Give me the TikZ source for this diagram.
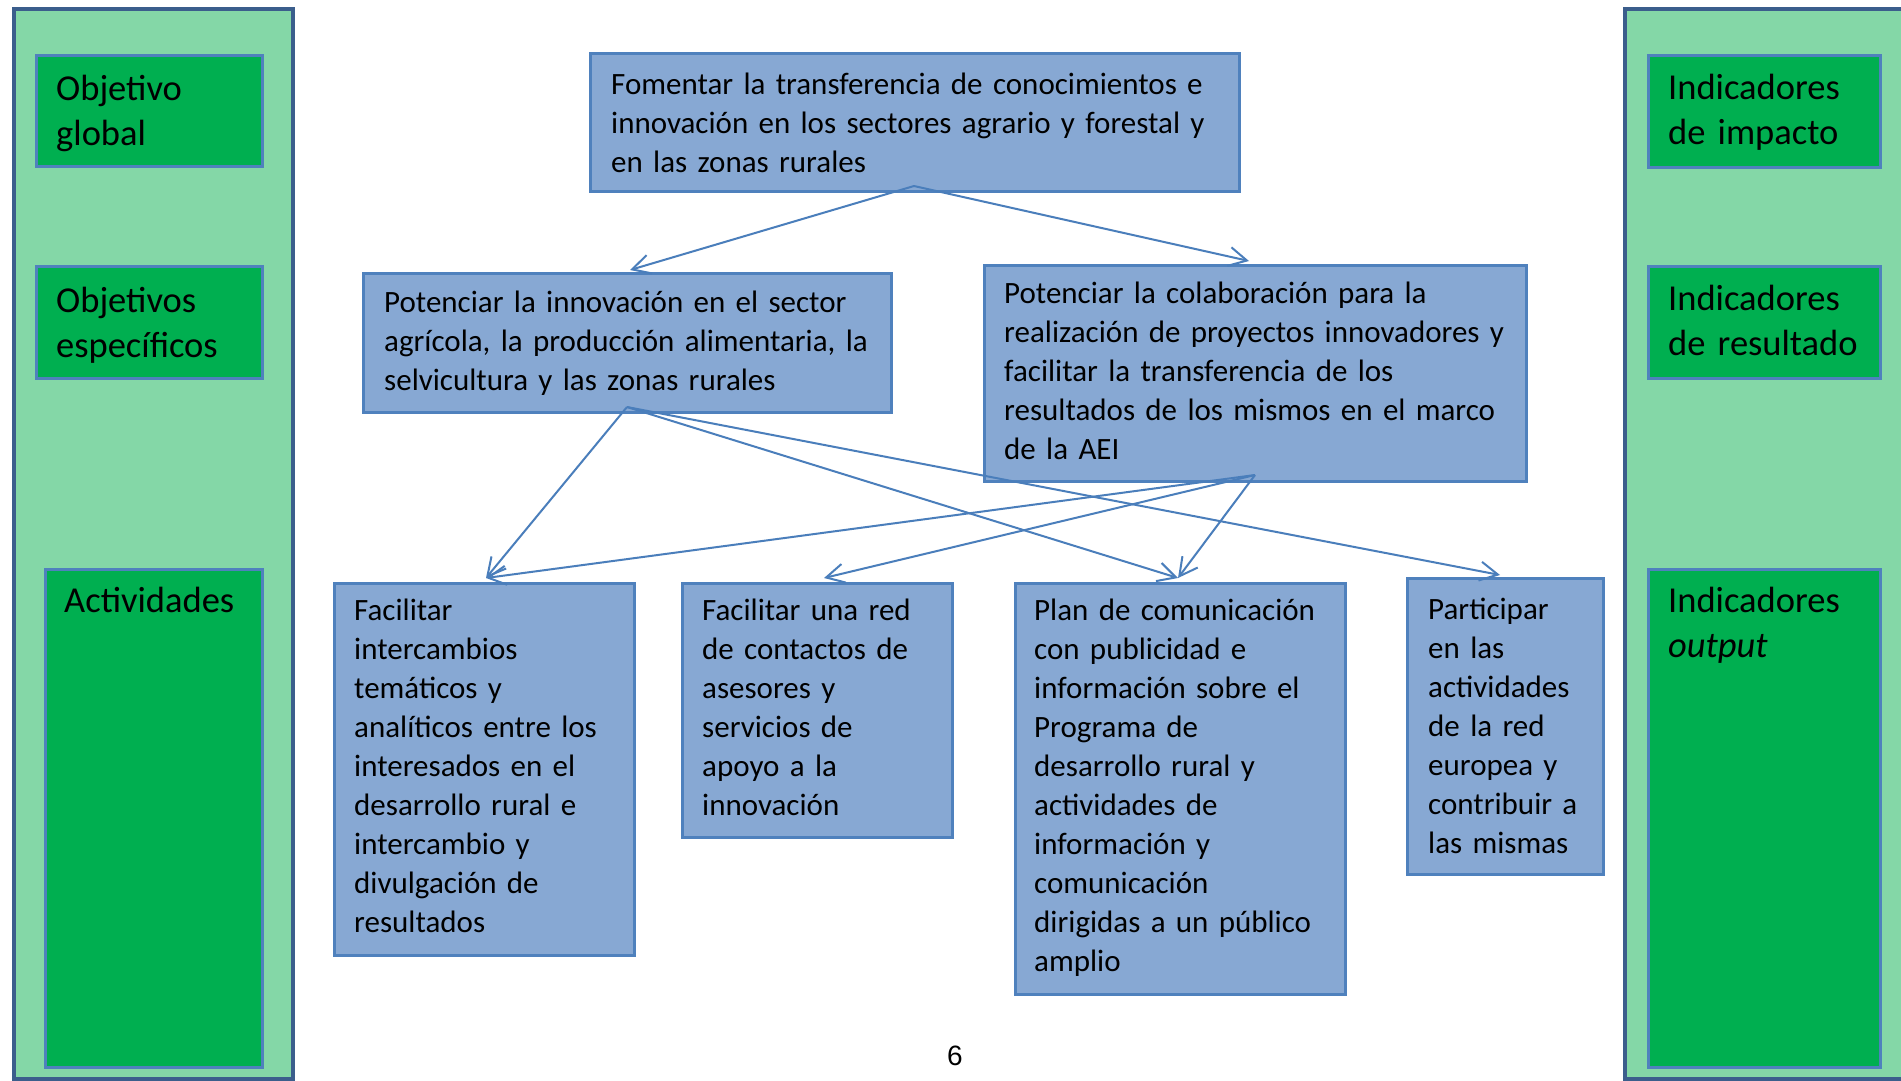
\documentclass[tikz,border=0pt]{standalone}
\usepackage{fontspec}
\setmainfont{Carlito}
\newfontfamily\arialf{Liberation Sans}
\usetikzlibrary{arrows.meta}
\definecolor{panelfill}{HTML}{84D7A7}
\definecolor{paneldraw}{HTML}{3B5E8C}
\definecolor{greenfill}{HTML}{00AF50}
\definecolor{boxdraw}{HTML}{4F81BD}
\definecolor{boxfill}{HTML}{87A8D3}
\definecolor{arrowc}{HTML}{4A7EBB}
\newcommand\boxat[6]{\node[#2, minimum width={(#5)-(#3)}, minimum height={(#6)-(#4)}, inner sep=0pt, anchor=north west] (#1) at (#3,#4) {};}
\begin{document}
\begin{tikzpicture}[x=1pt,y=-1pt,
  panel/.style={draw=paneldraw, fill=panelfill, line width=4pt},
  gbox/.style={draw=boxdraw, fill=greenfill, line width=3pt},
  bbox/.style={draw=boxdraw, fill=boxfill, line width=3pt},
  big/.style={anchor=base west, inner sep=0pt, align=left, text width=300pt, font=\fontsize{36.5}{45.5}\selectfont},
  txt/.style={anchor=base west, inner sep=0pt, align=left, text width=700pt, font=\fontsize{31}{39}\selectfont},
  link/.style={draw=arrowc, line width=2pt, -{Straight Barb[length=18pt,width=19pt]}}
]
\useasboundingbox (0,0) rectangle (1901,1080);
\clip (0,0) rectangle (1901,1080);
\fill[white] (0,0) rectangle (1901,1080);
% side panels
\boxat{lpanel}{panel}{12}{7}{291}{1077}
\boxat{rpanel}{panel}{1623}{7}{1915}{1077}
\boxat{og}{gbox}{34.5}{53.5}{260.5}{164.5}
\boxat{os}{gbox}{34.5}{264.5}{260.5}{376.5}
\boxat{act}{gbox}{43.5}{567.5}{260.5}{1065.5}
\boxat{ii}{gbox}{1646.5}{53.5}{1878.5}{165.5}
\boxat{ir}{gbox}{1646.5}{264.5}{1878.5}{376.5}
\boxat{io}{gbox}{1646.5}{567.5}{1878.5}{1065.5}
% centre boxes
\boxat{top}{bbox}{588.5}{51.5}{1237.5}{189.5}
\boxat{b2}{bbox}{361.5}{271.5}{889.5}{410.5}
\boxat{b3}{bbox}{982.5}{263.5}{1524.5}{479.5}
\boxat{bA}{bbox}{332.5}{581.5}{632.5}{953.5}
\boxat{bB}{bbox}{680.5}{581.5}{950.5}{835.5}
\boxat{bC}{bbox}{1013.5}{581.5}{1343.5}{992.5}
\boxat{bD}{bbox}{1405.5}{576.5}{1601.5}{872.5}
% connector end points
\coordinate (topo) at (914,186);
\coordinate (b2i) at (630,270);
\coordinate (b3i) at (1249,261);
\coordinate (b2o) at (627,407);
\coordinate (b3o) at (1255,475);
\coordinate (bAi) at (486,578);
\coordinate (bBi) at (824,578);
\coordinate (bCi) at (1178,578);
\coordinate (bDi) at (1500,575);
\draw[link] (topo) -- (b2i);
\draw[link] (topo) -- (b3i);
\draw[link] (b2o) -- (bAi);
\draw[link] (b2o) -- (bCi);
\draw[link] (b2o) -- (bDi);
\draw[link] (b3o) -- (bAi);
\draw[link] (b3o) -- (bBi);
\draw[link] (b3o) -- (bCi);
% texts
\node[big] (ogt) at (56,100) {Objetivo\\global};
\node[big] (ost) at (56,312) {Objetivos\\específicos};
\node[big] (actt) at (64,612) {Actividades};
\node[big] (iit) at (1668,99) {Indicadores\\de impacto};
\node[big] (irt) at (1668,310) {Indicadores\\de resultado};
\node[big] (iot) at (1668,612) {Indicadores\\\textit{output}};
\node[txt] (topt) at (611,94) {Fomentar la transferencia de conocimientos e\\innovación en los sectores agrario y forestal y\\en las zonas rurales};
\node[txt] (b2t) at (384,312) {Potenciar la innovación en el sector\\agrícola, la producción alimentaria, la\\selvicultura y las zonas rurales};
\node[txt] (b3t) at (1004,303) {Potenciar la colaboración para la\\realización de proyectos innovadores y\\facilitar la transferencia de los\\resultados de los mismos en el marco\\de la AEI};
\node[txt] (bAt) at (354,620) {Facilitar\\intercambios\\temáticos y\\analíticos entre los\\interesados en el\\desarrollo rural e\\intercambio y\\divulgación de\\resultados};
\node[txt] (bBt) at (702,620) {Facilitar una red\\de contactos de\\asesores y\\servicios de\\apoyo a la\\innovación};
\node[txt] (bCt) at (1034,620) {Plan de comunicación\\con publicidad e\\información sobre el\\Programa de\\desarrollo rural y\\actividades de\\información y\\comunicación\\dirigidas a un público\\amplio};
\node[txt] (bDt) at (1428,619) {Participar\\en las\\actividades\\de la red\\europea y\\contribuir a\\las mismas};
\node[anchor=base, inner sep=0pt, font=\arialf\fontsize{28}{30}\selectfont] (pg) at (955,1065) {6};
\end{tikzpicture}
\end{document}
